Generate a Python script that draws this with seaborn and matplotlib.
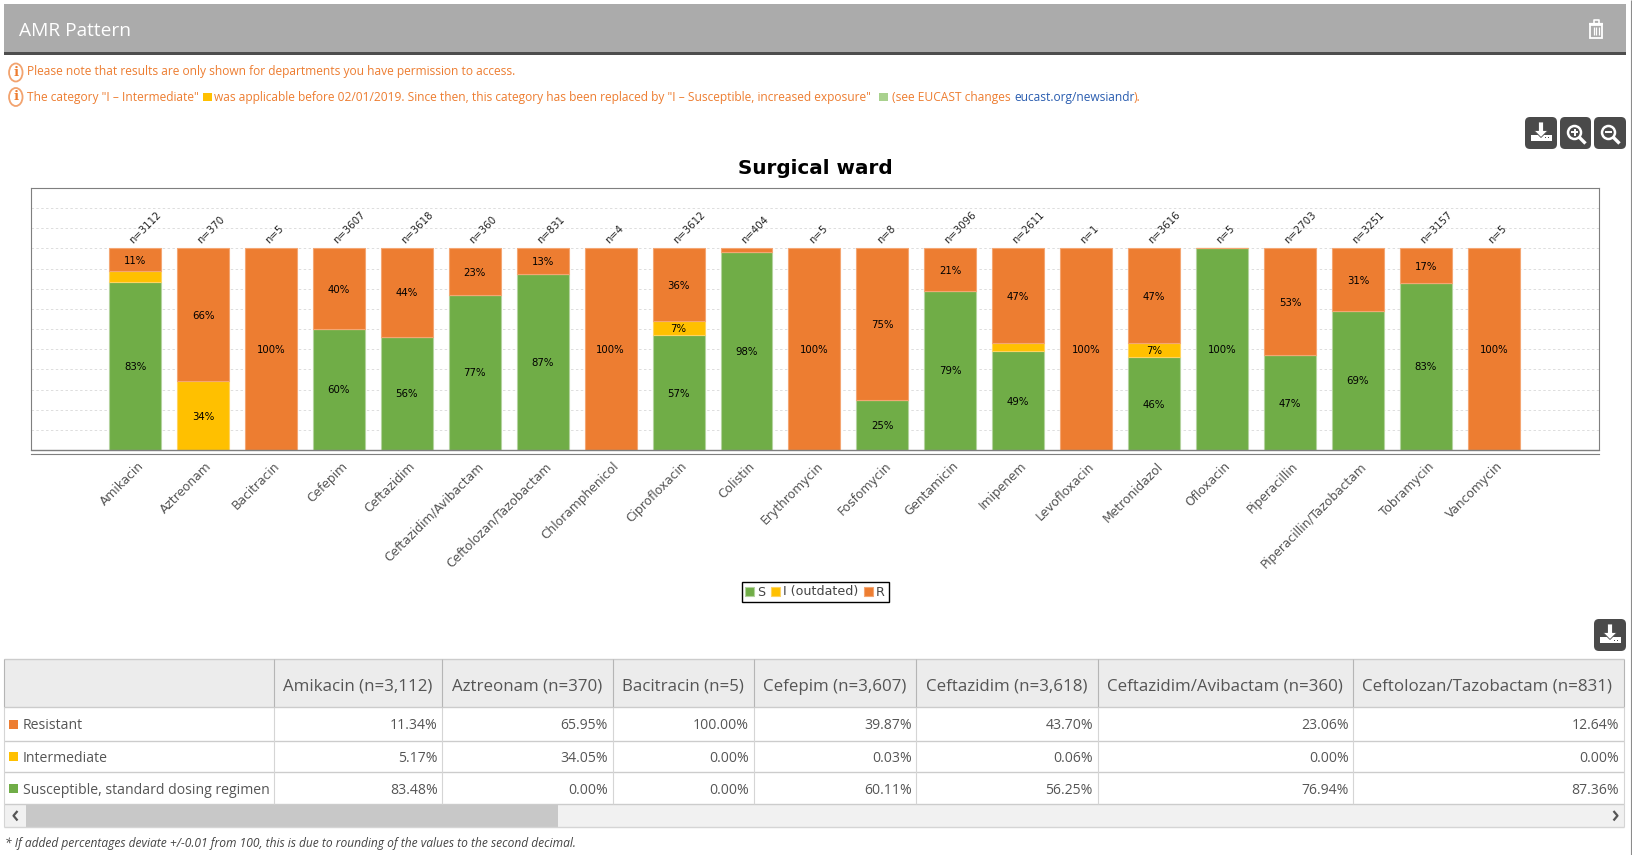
import matplotlib
matplotlib.use("Agg")
import matplotlib.pyplot as plt
import seaborn as sns
from matplotlib.patches import Rectangle, Ellipse, FancyBboxPatch, Polygon, Circle
from matplotlib.transforms import ScaledTranslation

antibiotics = ["Amikacin", "Aztreonam", "Bacitracin", "Cefepim", "Ceftazidim", "Ceftazidim/Avibactam",
               "Ceftolozan/Tazobactam", "Chloramphenicol", "Ciprofloxacin", "Colistin", "Erythromycin",
               "Fosfomycin", "Gentamicin", "Imipenem", "Levofloxacin", "Metronidazol", "Ofloxacin",
               "Piperacillin", "Piperacillin/Tazobactam", "Tobramycin", "Vancomycin"]
n_tests = [3112, 370, 5, 3607, 3618, 360, 831, 4, 3612, 404, 5, 8, 3096, 2611, 1, 3616, 5, 2703, 3251, 3157, 5]
susceptible = [83.48, 0, 0, 60.11, 56.25, 76.94, 87.36, 0, 57, 98, 0, 25, 79, 49, 0, 46, 100, 47, 69, 83, 0]
intermediate = [5.17, 34.05, 0, 0.03, 0.06, 0, 0, 0, 7, 0, 0, 0, 0, 4, 0, 7, 0, 0, 0, 0, 0]
resistant = [11.34, 65.95, 100, 39.87, 43.70, 23.06, 12.64, 100, 36, 2, 100, 75, 21, 47, 100, 47, 0, 53, 31, 17, 100]
legend_labels = ["S", "I (outdated)", "R"]

GREEN, YELLOW, ORANGE = "#70AD47", "#FFC000", "#ED7D31"
W, H = 1632, 855

sns.set_theme(style="white")
plt.rcParams["font.family"] = ["DejaVu Sans"]

fig = plt.figure(figsize=(W / 100, H / 100), dpi=100)

# page furniture is drawn in pixel coordinates on a full-figure axes
page = fig.add_axes([0, 0, 1, 1])
page.set_xlim(0, W)
page.set_ylim(H, 0)
page.axis("off")


def rect(x0, y0, x1, y1, color, **kw):
    page.add_patch(Rectangle((x0, y0), x1 - x0, y1 - y0, facecolor=color, edgecolor="none", **kw))


def line(xs, ys, color, lw=0.75, **kw):
    page.plot(xs, ys, color=color, lw=lw, solid_capstyle="butt", **kw)


def label(x, y, s, size, color, ha="left", weight="normal", style="normal"):
    page.text(x, y, s, fontsize=size, color=color, ha=ha, va="center", family="Open Sans",
              fontweight=weight, fontstyle=style)


def button(x0, y0, x1, y1):
    page.add_patch(FancyBboxPatch((x0, y0), x1 - x0, y1 - y0, boxstyle="round,pad=0,rounding_size=5",
                                  facecolor="#4A4A4A", edgecolor="none"))


def download_icon(x0, y0):
    button(x0, y0, x0 + 32, y0 + 32)
    rect(x0 + 5.5, y0 + 18, x0 + 26.5, y0 + 24, "white")
    page.add_patch(Polygon([(x0 + 13.5, y0 + 5), (x0 + 18.5, y0 + 5), (x0 + 18.5, y0 + 13.5), (x0 + 23, y0 + 13.5),
                            (x0 + 16, y0 + 20.5), (x0 + 9, y0 + 13.5), (x0 + 13.5, y0 + 13.5)],
                           facecolor="white", edgecolor="#4A4A4A", lw=0.6))
    rect(x0 + 20, y0 + 20.5, x0 + 21, y0 + 21.5, "#4A4A4A")
    rect(x0 + 22.5, y0 + 20.5, x0 + 23.5, y0 + 21.5, "#4A4A4A")


def zoom_icon(x0, y0, x1, sign):
    button(x0, y0, x1, y0 + 32)
    cx, cy = x0 + 14.5, y0 + 15.5
    page.add_patch(Circle((cx, cy), 6.5, facecolor="none", edgecolor="white", lw=1.8))
    line([cx + 4.5, cx + 11], [cy + 4.5, cy + 11], "white", lw=2.4)
    line([cx - 3.5, cx + 3.5], [cy, cy], "white", lw=1.4)
    if sign == "+":
        line([cx, cx], [cy - 3.5, cy + 3.5], "white", lw=1.4)


def info_icon(cy):
    page.add_patch(Ellipse((15.8, cy), 13.5, 18, facecolor="white", edgecolor="#F2A36F", lw=1.3))
    page.text(15.8, cy, "i", fontsize=9.5, color=ORANGE, ha="center", va="center",
              family="DejaVu Serif", fontweight="bold")


# header band
rect(4, 4, 1626, 52, "#ABABAB")
rect(4, 52, 1626, 55, "#4D4D4D")
label(19, 31, "AMR Pattern", 13.8, "white")
line([1631, 1631], [0, H], "#8C8C8C", lw=0.8)

# trash icon
page.add_patch(Rectangle((1590.3, 25), 11.4, 13, facecolor="none", edgecolor="white", lw=1.3))
line([1588.7, 1602.7], [24, 24], "white", lw=1.6)
line([1593.5, 1593.5, 1598.5, 1598.5], [23.5, 20.5, 20.5, 23.5], "white", lw=1.2)
for tx in [1593.5, 1596, 1598.5]:
    line([tx, tx], [27.5, 35.5], "white", lw=0.9)

# notices
info_icon(72.5)
info_icon(97)
label(27, 71.5, "Please note that results are only shown for departments you have permission to access.", 8.65, ORANGE)
label(27, 97.5, "The category \"I – Intermediate\"", 8.65, ORANGE)
rect(203, 92.7, 212, 101.3, YELLOW)
label(214.5, 97.5, "was applicable before 02/01/2019. Since then, this category has been replaced by "
      "\"I – Susceptible, increased exposure\"", 8.65, ORANGE)
rect(879, 92.7, 888, 101.3, "#A9D18E")
label(891.5, 97.5, "(see EUCAST changes", 8.65, ORANGE)
label(1014, 97.5, "eucast.org/newsiandr", 8.65, "#2A5DB0")
label(1134, 97.5, ").", 8.65, ORANGE)

download_icon(1525, 117)
zoom_icon(1560, 117, 1591, "+")
zoom_icon(1594, 117, 1626, "-")
download_icon(1594, 619)

# the stacked bar chart
ax = fig.add_axes([31.2 / W, 1 - 450 / H, (1599 - 31.2) / W, (450 - 188) / H])
ax.patch.set_alpha(0)

bottoms = [0] * len(antibiotics)
for values, color, edge in [(susceptible, GREEN, "#B4D39F"), (intermediate, YELLOW, "#FFD460"),
                            (resistant, ORANGE, "#F4A673")]:
    sns.barplot(x=antibiotics, y=values, bottom=bottoms, color=color, saturation=1, width=0.765,
                edgecolor=edge, linewidth=0.8, errorbar=None, ax=ax)
    bottoms = [b + v for b, v in zip(bottoms, values)]

for container, values in zip(ax.containers, [susceptible, intermediate, resistant]):
    texts = ax.bar_label(container, labels=[f"{round(v)}%" if v >= 6 else "" for v in values],
                         label_type="center", fontsize=7.3, color="black")
    for t in texts:
        t.set_va("center_baseline")

for i, n in enumerate(n_tests):
    ax.annotate(f"n={n}", (i, 100), xytext=(-0.2, 2.5), textcoords="offset points", rotation=45,
                rotation_mode="anchor", ha="left", va="bottom", fontsize=7.3, color="#222222")

ax.set_xlim(-1.53, 21.55)
ax.set_ylim(0, 130)
ax.set_yticks(range(0, 130, 10))
ax.tick_params(axis="y", length=0, labelleft=False)
ax.yaxis.grid(True, color="#DDDDDD", lw=0.7, ls=(0, (2.5, 2.5)))
ax.xaxis.grid(False)
ax.set_axisbelow(True)
ax.set_xlabel("")
ax.set_title("Surgical ward", fontsize=14.45, fontweight="bold", color="black", pad=10.3)

for side in ax.spines:
    ax.spines[side].set_color("#7F7F7F")
    ax.spines[side].set_linewidth(0.8)
ax.spines["bottom"].set_position(("outward", 3))
ax.axhline(0, color="#7F7F7F", lw=1.0, zorder=3, clip_on=False)

ax.tick_params(axis="x", length=2, width=0.7, color="#7F7F7F", pad=2, labelsize=8.85, labelcolor="#545454")
plt.setp(ax.get_xticklabels(), rotation=45, ha="right", va="top", rotation_mode="anchor")
for tick_label in ax.get_xticklabels():
    tick_label.set_transform(tick_label.get_transform() + ScaledTranslation(0.02, 0, fig.dpi_scale_trans))

ax.legend(ax.containers[:3], legend_labels, ncols=3, loc="center", bbox_to_anchor=(815.3 / W, 1 - 592 / H),
          bbox_transform=fig.transFigure, fontsize=9.1, fancybox=False, framealpha=1, edgecolor="black",
          handlelength=0.7, handleheight=0.7, handletextpad=0.25, columnspacing=0.45, borderpad=0.3,
          labelcolor="#444444", borderaxespad=0)

# table under the chart, first seven antibiotics only (rest is scrolled away)
col_edges = [4.3, 273.7, 442.3, 612.5, 753.6, 916.4, 1097.5, 1353.2, 1623.7]
row_edges = [659.3, 707.3, 740.5, 772.3, 804.3]
rows = [("Resistant", ORANGE, resistant), ("Intermediate", YELLOW, intermediate),
        ("Susceptible, standard dosing regimen", GREEN, susceptible)]

rect(col_edges[0], row_edges[0], col_edges[-1], row_edges[1], "#ECECEC")
for y in row_edges:
    line([col_edges[0], col_edges[-1]], [y, y], "#CCCCCC", lw=1)
for x in col_edges:
    line([x, x], [row_edges[0], row_edges[1]], "#B5B5B5", lw=0.8)
    line([x, x], [row_edges[1], row_edges[-1]], "#D5D5D5", lw=0.8)

for j in range(7):
    label(col_edges[j + 1] + 9.3, 686.5, f"{antibiotics[j]} (n={n_tests[j]:,})", 12.2, "#555555")
for r, (name, color, values) in enumerate(rows):
    cy = (row_edges[r + 1] + row_edges[r + 2]) / 2
    rect(8.8, cy - 4, 18.2, cy + 5, color)
    label(22.9, cy + 2, name, 10.05, "#555555")
    for j in range(7):
        label(col_edges[j + 2] - 4.6, cy + 2, f"{values[j]:.2f}%", 10.05, "#555555", ha="right")

# scrollbar
rect(4.3, 804.3, 1623.7, 826.5, "#F1F1F1")
rect(26, 804.3, 558, 826.5, "#C8C8C8")
line([4.3, 1623.7], [826.5, 826.5], "#D5D5D5", lw=1)
line([4.3, 4.3], [804.3, 826.5], "#D5D5D5", lw=0.8)
line([1623.7, 1623.7], [804.3, 826.5], "#D5D5D5", lw=0.8)
line([17.5, 13.5, 17.5], [811, 815.7, 820.5], "#555555", lw=1.6)
line([1613.5, 1617.5, 1613.5], [811, 815.7, 820.5], "#555555", lw=1.6)

label(5, 843, "* If added percentages deviate +/-0.01 from 100, this is due to rounding of the values to the second decimal.",
      8.65, "#444444", style="italic")

fig.savefig("out.png", dpi=100, facecolor="white")
